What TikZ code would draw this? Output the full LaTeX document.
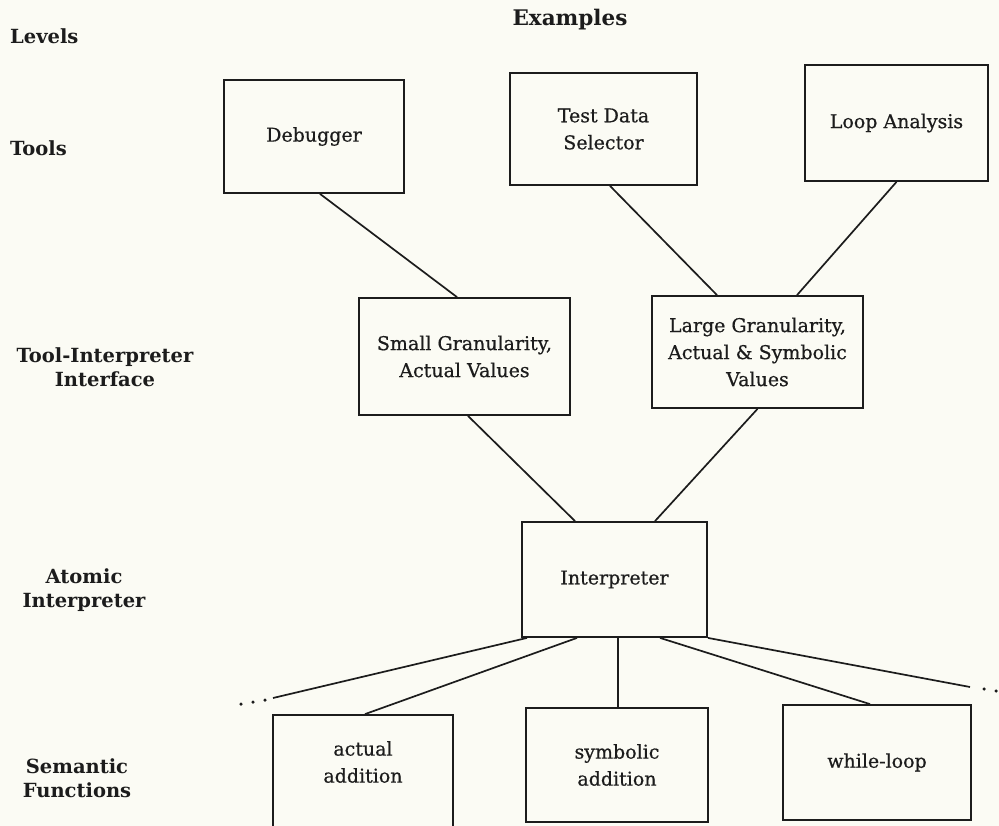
\documentclass[tikz,border=0pt]{standalone}
\usepackage{fontspec}
\setmainfont{DejaVu Serif}
\newfontfamily\boxfont[FakeBold=0.6]{DejaVu Serif}
\usetikzlibrary{calc}
\definecolor{paper}{HTML}{FBFBF4}
\definecolor{ink}{HTML}{1C1C1C}
\begin{document}
\begin{tikzpicture}[x=1pt,y=-1pt,
  box/.style={draw=ink, line width=1.8pt, rectangle, align=center, inner sep=0pt,
              font=\boxfont\fontsize{19}{27}\selectfont, text=ink},
  boxtext/.style={align=center, inner sep=0pt, font=\boxfont\fontsize{19}{27}\selectfont, text=ink},
  lvl/.style={align=center, inner sep=0pt, font=\bfseries\fontsize{19.5}{24}\selectfont, text=ink},
  conn/.style={draw=ink, line width=1.7pt},
  dotmark/.style={circle, fill=ink, inner sep=0pt, minimum size=3.5pt}]
\fill[paper] (0,0) rectangle (999,826);
\useasboundingbox (0,0) rectangle (999,826);
\clip (0,0) rectangle (999,826);

% level labels
\node[lvl, anchor=west] (levels) at (10,36) {Levels};
\node[lvl, font=\bfseries\fontsize{21.5}{24}\selectfont] (examples) at (570,20) {Examples};
\node[lvl, anchor=west] (ltools) at (10,148) {Tools};
\node[lvl] (ltii) at (105,367) {Tool-Interpreter\\Interface};
\node[lvl] (lai) at (84,590) {Atomic\\Interpreter};
\node[lvl] (lsf) at (77,778) {Semantic\\Functions};

% tools
\node[box, minimum width=180pt, minimum height=113pt] (dbg) at (314,136.5) {Debugger};
\node[box, minimum width=187pt, minimum height=112pt] (tds) at (603.5,129) {Test Data\\Selector};
\node[box, minimum width=183pt, minimum height=116pt] (loop) at (896.5,123) {Loop Analysis};

% interface
\node[box, minimum width=211pt, minimum height=117pt] (sg) at (464.5,356.5) {Small Granularity,\\Actual Values};
\node[box, minimum width=211pt, minimum height=112pt] (lg) at (757.5,352) {Large Granularity,\\Actual \& Symbolic\\Values};

% interpreter
\node[box, minimum width=185pt, minimum height=115pt] (interp) at (614.5,579.5) {Interpreter};

% semantic functions
\node[box, minimum width=180pt, minimum height=130pt] (act) at (363,780) {};
\node[boxtext] (acttxt) at (363,762) {actual\\addition};
\node[box, minimum width=182pt, minimum height=114pt] (sym) at (617,765) {symbolic\\addition};
\node[box, minimum width=188pt, minimum height=115pt] (wl) at (877,762.5) {while-loop};

% free ends
\coordinate (lend) at (273,698);
\coordinate (rend) at (970,687);

% connectors
\draw[conn] ([xshift=6pt]dbg.south) -- ([xshift=-7.5pt]sg.north);
\draw[conn] ([xshift=6.5pt]tds.south) -- ([xshift=-40.5pt]lg.north);
\draw[conn] (loop.south) -- ([xshift=39.5pt]lg.north);
\draw[conn] ([xshift=3.5pt]sg.south) -- ([xshift=-39.5pt]interp.north);
\draw[conn] (lg.south) -- ([xshift=40.5pt]interp.north);

\draw[conn] ([xshift=-87.5pt]interp.south) -- (lend);
\draw[conn] ([xshift=-37.5pt]interp.south) -- ([xshift=2pt]act.north);
\draw[conn] ([xshift=3.5pt]interp.south) -- ([xshift=1pt]sym.north);
\draw[conn] ([xshift=45.5pt]interp.south) -- ([xshift=-7pt]wl.north);
\draw[conn] (interp.south east) -- (rend);

% ellipsis dots
\node[dotmark] (ld1) at (241,704) {};
\node[dotmark] (ld2) at (253,702) {};
\node[dotmark] (ld3) at (265,700) {};
\node[dotmark] (rd1) at (984,689) {};
\node[dotmark] (rd2) at (996,691) {};
\end{tikzpicture}
\end{document}
